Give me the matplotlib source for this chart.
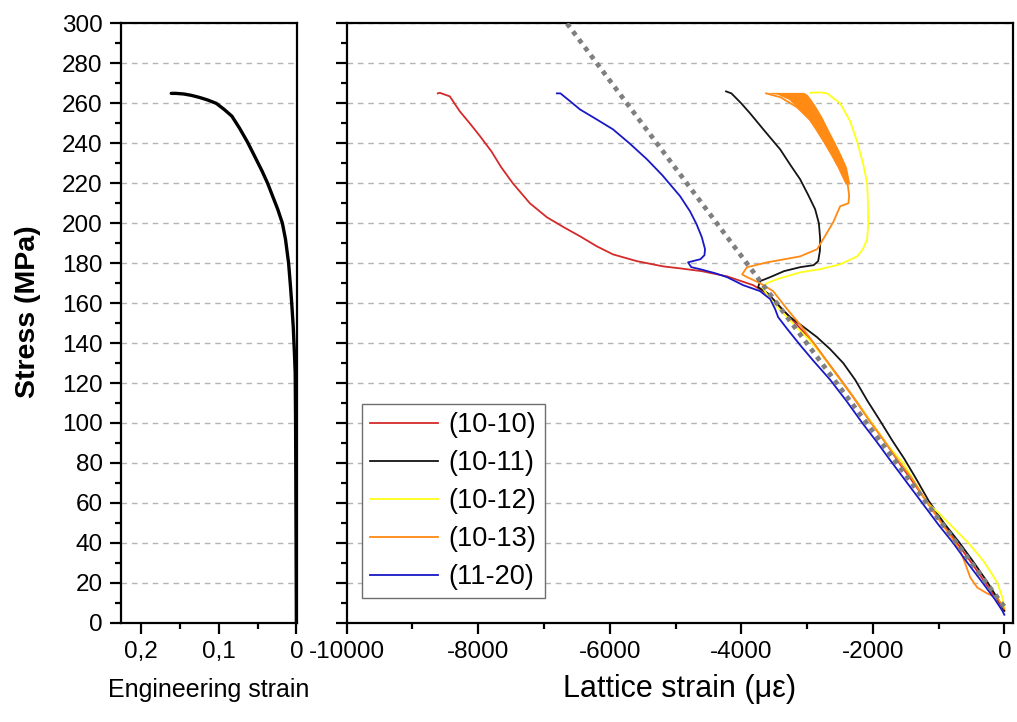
import matplotlib
matplotlib.use('Agg')
import matplotlib.pyplot as plt
from matplotlib.ticker import MultipleLocator, FuncFormatter

plt.rcParams['font.family'] = ['Liberation Sans', 'DejaVu Sans']
plt.rcParams['axes.unicode_minus'] = False

# engineering stress-strain curve
eng_strain = [0.161, 0.155, 0.145, 0.135, 0.125, 0.115, 0.103, 0.093, 0.083, 0.073, 0.063,
              0.053, 0.044, 0.037, 0.031, 0.024, 0.018, 0.014, 0.010, 0.0075, 0.006, 0.004,
              0.0025, 0.0015, 0.001, 0.0005, 0.0]
eng_stress = [265, 265, 264.7, 264, 263, 261.8, 260, 257, 253.6, 247.5, 240.7,
              233, 226, 220, 214, 207, 200, 192, 180, 168, 160, 148,
              135, 125, 100, 50, 0]

# lattice strain curves (micro strain) vs stress (MPa)
red_x = [-8615, -8585, -8432, -8280, -8128, -7976, -7800, -7650, -7474, -7215, -6956, -6700,
         -6454, -6200, -5951, -5586, -5190, -4932, -4600, -4216, -3820, -3668, -3516, -3350,
         -3150, -2900, -2700, -2450, -2230, -2020, -1800, -1600, -1380, -1170, -950, -720,
         -500, -290, -120, 0]
red_y = [265, 265.3, 263.5, 256, 250, 243.7, 236, 228, 220, 210, 203, 198,
         193.5, 188.5, 184.4, 181, 178.4, 177.4, 176, 173.4, 169, 166, 162, 156,
         149, 140, 131, 120, 110, 100, 90, 80, 70, 60, 50, 40,
         30, 20, 12, 6]

black_x = [-4231, -4150, -4000, -3866, -3640, -3409, -3250, -3105, -2980, -2877, -2820, -2800,
           -2805, -2831, -2900, -3105, -3350, -3561, -3714, -3744, -3600, -3409, -3257, -3050,
           -2850, -2650, -2450, -2268, -2080, -1887, -1700, -1520, -1340, -1150, -920, -680,
           -460, -250, -100, 0]
black_y = [266, 265, 260, 255, 246, 237, 229, 222, 214, 207, 200, 192,
           186, 181, 179, 178, 176, 173, 171, 168, 165, 158, 153, 148,
           143, 137, 130, 121.6, 111, 101, 91, 82, 72, 61, 50, 40,
           30, 20, 12, 6]

yellow_x = [-2953, -2800, -2694, -2496, -2344, -2237, -2146, -2085, -2075, -2070, -2085, -2150,
            -2237, -2496, -2800, -3105, -3455, -3607, -3683, -3600, -3450, -3250, -2950, -2750,
            -2550, -2320, -2100, -1950, -1800, -1650, -1537, -1355, -1172, -1000, -850, -700,
            -548, -320, -200, -107, -30, 0]
yellow_y = [265.3, 265.5, 265, 260, 251, 240.7, 229.6, 219.6, 210, 200.5, 192, 187,
            183.4, 179.4, 177, 175.4, 172, 170, 168, 164, 158, 151, 141, 133,
            124, 114, 104, 97, 90, 84, 80, 70, 60, 55, 50, 45,
            40, 31, 25, 20, 12.6, 8]

orange_x = [-3623, -3400, -3150, -2900, -2650, -2460, -2380, -2360, -2370, -2496, -2602, -2755,
            -2846, -3105, -3607, -3912, -3988, -3912, -3714, -3516, -3303, -3100, -2900, -2700,
            -2500, -2300, -2070, -1850, -1630, -1400, -1190, -960, -746, -670, -594, -518,
            -411, -259, -107, -40, 0]
orange_y = [265, 263, 258, 250, 240, 228, 219, 214, 210, 208.5, 200.5, 192,
            187, 183.4, 180.4, 178, 174.4, 173, 170, 166, 157, 149, 140, 131,
            122, 113, 102, 92, 82, 72, 61, 50, 40, 36, 29.6, 22.6,
            17.6, 14.6, 12.6, 9, 7]
# noisy band at the top of the (10-13) curve
orange_band_y = [265.5, 264.5, 262, 258, 253, 247, 240.7, 234, 228, 219.6]
orange_band_left = [-3638, -3450, -3280, -3150, -3000, -2880, -2760, -2640, -2540, -2420]
orange_band_right = [-3050, -3000, -2940, -2860, -2770, -2680, -2580, -2480, -2400, -2350]

blue_x = [-6804, -6750, -6600, -6454, -6200, -5951, -5700, -5434, -5200, -4932, -4780, -4680,
          -4600, -4551, -4560, -4620, -4810, -4760, -4627, -4400, -4216, -3972, -3714, -3560,
          -3485, -3440, -3300, -3105, -2900, -2648, -2400, -2160, -1950, -1750, -1500, -1250,
          -1000, -780, -560, -330, -150, -30, 0]
blue_y = [265, 265, 261, 257, 252, 247, 240, 232, 224, 213.6, 206, 199.5,
          193, 187, 184, 182, 180.4, 178, 177, 175, 173, 169, 166, 162,
          157, 153, 147, 139, 131, 121.6, 111, 100, 91, 82, 71, 60,
          49, 40, 30, 20, 12, 6, 4]

guide_x = [-6650, 0]
guide_y = [300, 8]

labels = ['(10-10)', '(10-11)', '(10-12)', '(10-13)', '(11-20)']
colors = ['#d42a2a', '#141414', '#ffff1a', '#ff8a14', '#1818c8']

fig = plt.figure(figsize=(10.17, 7.22), dpi=100)
ax1 = fig.add_axes([0.1187, 0.1375, 0.1731, 0.8300])
ax2 = fig.add_axes([0.3409, 0.1375, 0.6555, 0.8300])

for ax in (ax1, ax2):
    ax.set_ylim(0, 300)
    ax.yaxis.set_major_locator(MultipleLocator(20))
    ax.yaxis.set_minor_locator(MultipleLocator(10))
    ax.grid(axis='y', which='major', color='#b4b4b4', linestyle=(0, (4, 3.5)), linewidth=1.0)
    ax.set_axisbelow(True)
    for s in ax.spines.values():
        s.set_linewidth(1.6)
    ax.tick_params(which='major', direction='out', length=8, width=1.6, labelsize=17.5, pad=5)
    ax.tick_params(which='minor', direction='out', length=4.5, width=1.6)
    ax.tick_params(axis='y', which='both', right=False)
    ax.tick_params(axis='x', which='both', top=False)

# left panel
ax1.plot(eng_strain, eng_stress, color='black', linewidth=2.4, solid_capstyle='round')
ax1.set_xlim(0.226, -0.0005)
ax1.xaxis.set_major_locator(MultipleLocator(0.1))
ax1.xaxis.set_minor_locator(MultipleLocator(0.05))
ax1.xaxis.set_major_formatter(FuncFormatter(lambda v, p: '0' if abs(v) < 1e-9 else ('%.1f' % v).replace('.', ',')))
ax1.set_xlabel('Engineering strain', fontsize=18, labelpad=11)
ax1.set_ylabel('Stress (MPa)', fontsize=20.5, fontweight='bold')
ax1.yaxis.set_label_coords(-0.452, 0.519)

# right panel
series = [(red_x, red_y), (black_x, black_y), (yellow_x, yellow_y), (orange_x, orange_y), (blue_x, blue_y)]
for (xs, ys), lab, col in zip(series, labels, colors):
    ax2.plot(xs, ys, color=col, linewidth=1.3, label=lab)
ax2.fill_betweenx(orange_band_y, orange_band_left, orange_band_right, color=colors[3], linewidth=0)
ax2.plot(guide_x, guide_y, color='#7f7f7f', linewidth=3.4, linestyle=(0, (1, 1.1)),
         dash_capstyle='butt', zorder=5)
ax2.set_xlim(-10000, 137)
ax2.xaxis.set_major_locator(MultipleLocator(2000))
ax2.xaxis.set_minor_locator(MultipleLocator(1000))
ax2.tick_params(axis='y', labelleft=False)
ax2.set_xlabel('Lattice strain (\u03bc\u03b5)', fontsize=22, labelpad=8)

leg = ax2.legend(loc='lower left', bbox_to_anchor=(0.023, 0.041), borderaxespad=0,
                 fontsize=19.5, handlelength=2.5, handletextpad=0.4, labelspacing=0.44,
                 borderpad=0.3, frameon=True, fancybox=False, framealpha=1)
leg.get_frame().set_edgecolor('#6e6e6e')
leg.get_frame().set_linewidth(1.0)

fig.savefig('out.png', dpi=100)
